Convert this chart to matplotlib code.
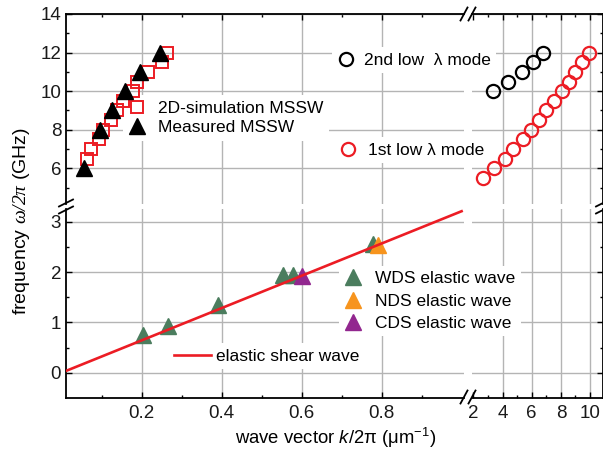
import matplotlib.pyplot as plt
from matplotlib.lines import Line2D
from matplotlib.legend import Legend

plt.rcParams['font.family'] = ['Liberation Sans', 'DejaVu Sans']
plt.rcParams['mathtext.fontset'] = 'custom'
plt.rcParams['mathtext.rm'] = 'Liberation Sans'
plt.rcParams['mathtext.it'] = 'Liberation Sans:italic'
plt.rcParams['mathtext.sf'] = 'Liberation Serif:italic'

#%% Data

# MSSW branch, small k
k_mssw_meas = [0.056, 0.096, 0.125, 0.158, 0.196, 0.246]
f_mssw_meas = [6.0, 8.0, 9.0, 10.0, 11.0, 12.0]
k_mssw_sim = [0.063, 0.073, 0.094, 0.104, 0.123, 0.138, 0.154, 0.179,
              0.188, 0.217, 0.250, 0.264]
f_mssw_sim = [6.5, 7.0, 7.5, 8.0, 8.5, 9.0, 9.5, 10.0, 10.5, 11.0, 11.5, 12.0]

# low wavelength modes, large k
k_mode1 = [2.63, 3.43, 4.16, 4.73, 5.38, 5.95, 6.50, 6.98, 7.53, 8.06,
           8.54, 8.99, 9.43, 9.93]
f_mode1 = [5.5, 6.0, 6.5, 7.0, 7.5, 8.0, 8.5, 9.0, 9.5, 10.0, 10.5, 11.0,
           11.5, 12.0]
k_mode2 = [3.34, 4.37, 5.33, 6.09, 6.77]
f_mode2 = [10.0, 10.5, 11.0, 11.5, 12.0]

# elastic waves
k_wds = [0.204, 0.267, 0.392, 0.554, 0.579, 0.778]
f_wds = [0.75, 0.93, 1.35, 1.94, 1.94, 2.55]
k_nds = [0.790]
f_nds = [2.54]
k_cds = [0.600]
f_cds = [1.93]
k_shear = [0.0, 1.0]
f_shear = [0.0, 3.21]

red = '#ec1c24'
green = '#4b7d5e'
orange = '#f7941d'
purple = '#92278f'
grid_c = '#b4b4b4'

#%% Figure with broken axes (4 panels)
W, H = 603, 455
fig = plt.figure(figsize=(W / 100, H / 100), dpi=100)

def px_axes(x0, x1, y0, y1):
    return fig.add_axes([x0 / W, 1 - y1 / H, (x1 - x0) / W, (y1 - y0) / H])

ax_ul = px_axes(66, 464, 14, 204)
ax_ll = px_axes(66, 464, 209, 397.85)
ax_ur = px_axes(472, 603, 14, 204)
ax_lr = px_axes(472, 603, 209, 397.85)

xl = (0.011, 1.006)
xr = (1.9, 10.89)
yu = (4.15, 14)
yd = (-0.5, 3.254)

for ax in [ax_ul, ax_ll]:
    ax.set_xlim(xl)
    ax.set_xticks([0.2, 0.4, 0.6, 0.8])
    ax.set_xticks([0.1, 0.3, 0.5, 0.7, 0.9], minor=True)
for ax in [ax_ur, ax_lr]:
    ax.set_xlim(xr)
    ax.set_xticks([2, 4, 6, 8, 10])
    ax.set_xticks([3, 5, 7, 9], minor=True)
for ax in [ax_ul, ax_ur]:
    ax.set_ylim(yu)
    ax.set_yticks([6, 8, 10, 12, 14])
    ax.set_yticks([5, 7, 9, 11, 13], minor=True)
for ax in [ax_ll, ax_lr]:
    ax.set_ylim(yd)
    ax.set_yticks([0, 1, 2, 3])
    ax.set_yticks([0.5, 1.5, 2.5], minor=True)

spines_on = {ax_ul: ('top', 'left'), ax_ur: ('top', 'right'),
             ax_ll: ('bottom', 'left'), ax_lr: ('bottom', 'right')}
for ax, keep in spines_on.items():
    for s in ['top', 'bottom', 'left', 'right']:
        ax.spines[s].set_visible(s in keep)
        ax.spines[s].set_linewidth(1.3)
    ax.tick_params(which='both', direction='in', width=1.0,
                   top='top' in keep, bottom='bottom' in keep,
                   left='left' in keep, right='right' in keep,
                   labeltop=False, labelright=False,
                   labelbottom='bottom' in keep, labelleft='left' in keep,
                   labelsize=13.5, labelcolor='#1a1a1a')
    ax.tick_params(which='major', length=4.5)
    ax.tick_params(which='minor', length=2.5)
    ax.tick_params(axis='x', pad=5)
    ax.tick_params(axis='y', pad=3.5)
    ax.set_axisbelow(True)
    ax.grid(True, which='major', color=grid_c, lw=1.0)

# no grid line at k = 2 (start of right panels)
for ax in [ax_ur, ax_lr]:
    ax.get_xgridlines()[0].set_visible(False)

#%% Data
ax_ul.plot(k_mssw_sim, f_mssw_sim, ls='none', marker='s', mfc='none', mec=red,
           ms=8, mew=1.4)
ax_ul.plot(k_mssw_meas, f_mssw_meas, ls='none', marker='^', color='k', ms=11)

ax_ur.plot(k_mode2, f_mode2, ls='none', marker='o', mfc='none', mec='k',
           ms=9.5, mew=1.6)
ax_ur.plot(k_mode1, f_mode1, ls='none', marker='o', mfc='none', mec=red,
           ms=9.5, mew=1.6)

ax_ll.plot(k_wds, f_wds, ls='none', marker='^', color=green, ms=11)
ax_ll.plot(k_nds, f_nds, ls='none', marker='^', color=orange, ms=11)
ax_ll.plot(k_cds, f_cds, ls='none', marker='^', color=purple, ms=11)
ax_ll.plot(k_shear, f_shear, '-', color=red, lw=1.9, zorder=3)

#%% Legends (white boxes hide the grid, drawn under the data)
fs = 12.5
fs_px = fs * 100 / 72

def put_legend(ax, handles, labels, x_left, y_mid, hlen=1.0, tpad=0.7, lsp=0.0):
    bp = 0.3
    x0 = x_left - bp * fs_px
    leg = Legend(ax, handles, labels, loc='center left',
                 bbox_to_anchor=(x0 / W, 1 - y_mid / H),
                 bbox_transform=fig.transFigure, borderaxespad=0,
                 fontsize=fs, handlelength=hlen, handletextpad=tpad,
                 labelspacing=lsp, borderpad=bp, frameon=True,
                 fancybox=False, edgecolor='none', facecolor='white',
                 framealpha=1)
    leg.set_zorder(1.5)
    ax.add_artist(leg)
    return leg

def mk(**kw):
    return Line2D([], [], ls='none', **kw)

put_legend(ax_ul,
           [mk(marker='s', mfc='none', mec=red, ms=8, mew=1.4),
            mk(marker='^', color='k', ms=11)],
           ['2D-simulation MSSW', 'Measured MSSW'],
           137 - fs_px / 2, 118, tpad=0.71, lsp=0.25)
put_legend(ax_ur, [mk(marker='o', mfc='none', mec='k', ms=9.5, mew=1.6)],
           ['2nd low  λ mode'], 346 - fs_px / 2, 60, tpad=0.55)
put_legend(ax_ur, [mk(marker='o', mfc='none', mec=red, ms=9.5, mew=1.6)],
           ['1st low λ mode'], 348 - fs_px / 2, 150, tpad=0.65)
put_legend(ax_lr,
           [mk(marker='^', color=green, ms=11),
            mk(marker='^', color=orange, ms=11),
            mk(marker='^', color=purple, ms=11)],
           ['WDS elastic wave', 'NDS elastic wave', 'CDS elastic wave'],
           353 - fs_px / 2, 301, tpad=0.77, lsp=0.4)
put_legend(ax_ll, [Line2D([], [], color=red, lw=1.9)], ['elastic shear wave'],
           174, 356, hlen=37 / fs_px, tpad=0.29)

#%% Break marks
def slash(xc, yc, dx, dy):
    fig.add_artist(Line2D([(xc - dx) / W, (xc + dx) / W],
                          [1 - (yc + dy) / H, 1 - (yc - dy) / H],
                          color='k', lw=1.3))

for yc in [203, 210]:
    slash(66, yc, 7, 3.5)
    slash(603, yc, 7, 3.5)
for xc in [464, 472]:
    slash(xc, 397, 3.5, 6.5)
    slash(xc, 14, 3.5, 6.5)

#%% Axis labels
fig.text(22 / W, 1 - 221 / H, r'frequency $\mathsf{\omega/2\pi}$ (GHz)',
         rotation=90, ha='center', va='center', fontsize=14)
fig.text(336 / W, 1 - 438 / H, r'wave vector $k$/2π (μm$^{-1}$)',
         ha='center', va='center', fontsize=13.3)

fig.savefig('out.png', dpi=100, facecolor='w')
